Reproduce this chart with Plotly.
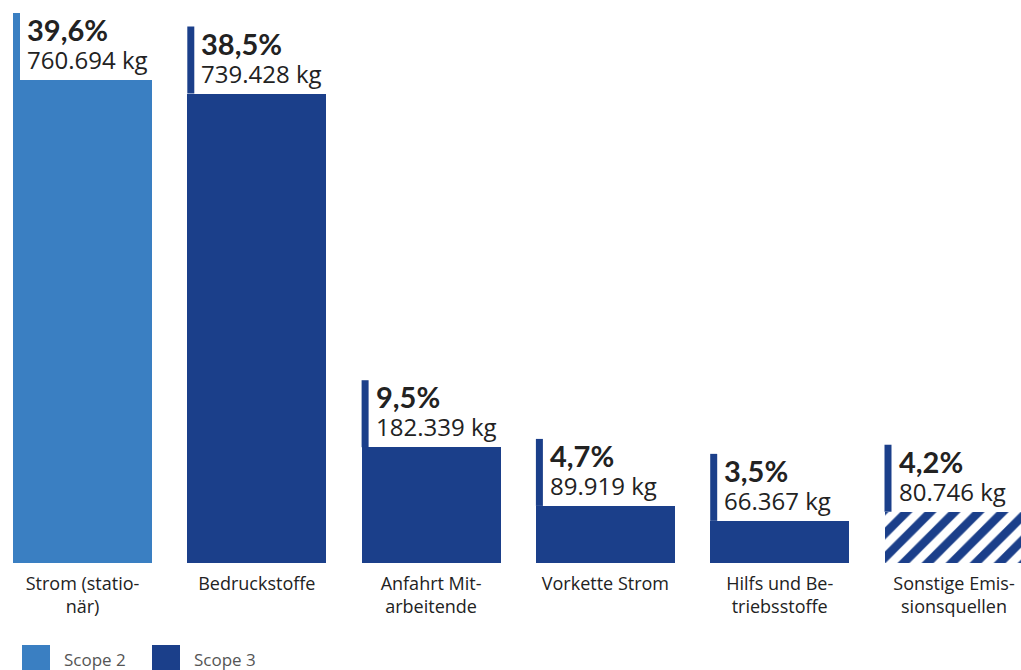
import plotly.graph_objects as go

# ---- data ----
categories = ["Strom (statio-<br>när)", "Bedruckstoffe", "Anfahrt Mit-<br>arbeitende",
              "Vorkette Strom", "Hilfs und Be-<br>triebsstoffe", "Sonstige Emis-<br>sionsquellen"]
values_kg = [760694, 739428, 182339, 89919, 66367, 80746]
value_labels = ["760.694 kg", "739.428 kg", "182.339 kg", "89.919 kg", "66.367 kg", "80.746 kg"]
pct_labels = ["39,6%", "38,5%", "9,5%", "4,7%", "3,5%", "4,2%"]
scope = ["Scope 2", "Scope 3", "Scope 3", "Scope 3", "Scope 3", "Scope 3"]
hatched = [False, False, False, False, False, True]
legend_names = ["Scope 2", "Scope 3"]

# ---- style ----
C2 = "#3a7fc2"
C3 = "#1b3f8a"
color_of = {"Scope 2": C2, "Scope 3": C3}
FONT = "Open Sans"
BW = 0.7975
STRIP_PX = 7
BOX_PX = 67

xs = list(range(len(categories)))
fig = go.Figure()

for i in xs:
    col = color_of[scope[i]]
    marker = dict(color=col, line=dict(width=0))
    if hatched[i]:
        marker = dict(color="white", line=dict(width=0),
                      pattern=dict(shape="/", fgcolor=col, bgcolor="white",
                                   size=17, solidity=0.5, fillmode="replace"))
    fig.add_trace(go.Bar(x=[i], y=[values_kg[i]], width=BW, marker=marker,
                         showlegend=False, hoverinfo="skip"))

shapes = []
annotations = []
for i in xs:
    col = color_of[scope[i]]
    left = i - BW / 2
    shapes.append(dict(type="rect", xref="x", yref="y",
                       xsizemode="pixel", xanchor=left, x0=0, x1=STRIP_PX,
                       ysizemode="pixel", yanchor=values_kg[i], y0=0, y1=BOX_PX,
                       fillcolor=col, line=dict(width=0), layer="above"))
    txt = ("<span style='font-family:Lato;font-size:29px;font-weight:bold'><b>" + pct_labels[i]
           + "</b></span><br><span style='font-size:24px'>" + value_labels[i] + "</span>")
    annotations.append(dict(x=left, y=values_kg[i], xref="x", yref="y",
                            xanchor="left", yanchor="middle", xshift=12, yshift=36,
                            text=txt, showarrow=False, align="left",
                            font=dict(family=FONT, size=21.5, color="#222222")))

# legend keys (layout elements)
leg_x = [(22, 50, 62), (152, 180, 192)]
for name, (a, b, t) in zip(legend_names, leg_x):
    shapes.append(dict(type="rect", xref="paper", yref="paper",
                       x0=a / 1021, x1=b / 1021, y0=(563 - 645) / 563, y1=(563 - 675) / 563,
                       fillcolor=color_of[name], line=dict(width=0)))
    annotations.append(dict(x=t / 1021, y=(563 - 659) / 563, xref="paper", yref="paper",
                            xanchor="left", yanchor="middle", text=name, showarrow=False,
                            font=dict(family=FONT, size=17, color="#555555")))

fig.update_layout(
    width=1021, height=670,
    margin=dict(l=0, r=0, t=0, b=107),
    plot_bgcolor="white", paper_bgcolor="white",
    bargap=0, showlegend=False,
    shapes=shapes, annotations=annotations,
    xaxis=dict(range=[-82.5 / 174.3, (1021 - 82.5) / 174.3], tickmode="array",
               tickvals=xs, ticktext=categories, showgrid=False, zeroline=False,
               showline=False, ticks="", ticklabelstandoff=8,
               tickfont=dict(family=FONT, size=18, color="#222222"), fixedrange=True),
    yaxis=dict(range=[0, 760694 * 563 / 483], visible=False, showgrid=False,
               zeroline=False, fixedrange=True),
)

fig.write_html("out.html")
